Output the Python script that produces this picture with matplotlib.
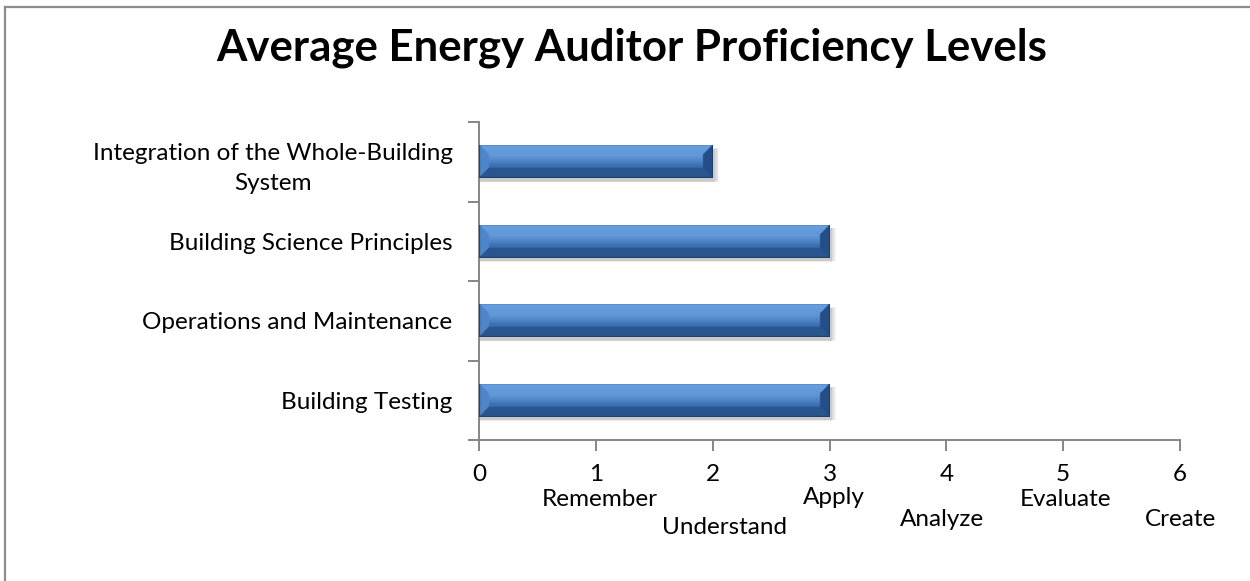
import numpy as np
import matplotlib
matplotlib.use("Agg")
import matplotlib.pyplot as plt
from matplotlib.lines import Line2D
from matplotlib.patches import Rectangle

categories = ["Building Testing", "Operations and Maintenance",
              "Building Science Principles",
              "Integration of the Whole-Building\nSystem"]
values = [3, 3, 3, 2]
x_ticks = [0, 1, 2, 3, 4, 5, 6]
levels = ["Remember", "Understand", "Apply", "Analyze", "Evaluate", "Create"]
level_x = [1.03, 2.10, 3.04, 3.96, 5.02, 6.00]
level_px_y = [500, 528, 497, 519, 499, 519]   # staggered rows under the numbers

FONT = "Lato"
FS = 17.5
AXIS_GREY = "#868686"

fig = plt.figure(figsize=(12.5, 5.81), dpi=100)
W, H = 1250, 581
AX_TOP, AX_BOT = 122, 440
ax = fig.add_axes([479 / W, 1 - AX_BOT / H, (1180 - 479) / W, (AX_BOT - AX_TOP) / H])

ypos = np.arange(len(categories))
bar_h = 0.42
bars = ax.barh(ypos, values, height=bar_h, color="#3C72B6",
               edgecolor="none", zorder=3)

ax.set_xlim(0, 6)
ax.set_ylim(-0.5, len(categories) - 0.5)

# soft drop shadow beneath each bar
for b in bars:
    x0, y0 = b.get_x(), b.get_y()
    w, h = b.get_width(), b.get_height()
    for k, a in enumerate([0.04, 0.05, 0.06, 0.07]):
        off = 0.006 * (4 - k)
        ax.add_patch(Rectangle((x0 + 0.01, y0 - 0.05 + off * 0.5), w + off * 2, h,
                               facecolor="black", alpha=a, edgecolor="none",
                               zorder=2))

# axes styling
for s in ["top", "right"]:
    ax.spines[s].set_visible(False)
for s in ["left", "bottom"]:
    ax.spines[s].set_color(AXIS_GREY)
    ax.spines[s].set_linewidth(1.4)

ax.set_yticks(np.arange(-0.5, len(categories), 1.0))
ax.set_yticklabels([])
ax.set_yticks(ypos, minor=True)
ax.set_yticklabels(categories, minor=True, fontfamily=FONT, fontsize=FS)
ax.tick_params(axis="y", which="major", length=8, width=1.4, color=AXIS_GREY,
               direction="out")
ax.tick_params(axis="y", which="minor", length=0, pad=19)

ax.set_xticks(x_ticks)
ax.set_xticklabels([str(v) for v in x_ticks], fontfamily=FONT, fontsize=FS)
ax.tick_params(axis="x", length=8, width=1.4, color=AXIS_GREY, direction="out",
               pad=9)

# bevelled gradient fill for each bar
fig.canvas.draw()
for t in ax.yaxis.get_ticklabels(minor=True):
    t.set_multialignment("center")
    t.set_linespacing(1.55)

px_per_x = ax.transData.transform((1, 0))[0] - ax.transData.transform((0, 0))[0]
px_per_y = ax.transData.transform((0, 1))[1] - ax.transData.transform((0, 0))[1]


def hex_rgb(c):
    return np.array(matplotlib.colors.to_rgb(c))


top_light = hex_rgb("#7DB3EE")
mid = hex_rgb("#3F76BA")
bot = hex_rgb("#2D5A96")
left_bev = hex_rgb("#4E86CA")
right_bev = hex_rgb("#264E86")
edge_dark = hex_rgb("#1E3D68")

for b in bars:
    w, h = b.get_width(), b.get_height()
    nx = max(int(round(w * px_per_x)) * 2, 2)
    ny = max(int(round(h * px_per_y)) * 2, 2)
    xx = (np.arange(nx) + 0.5) / 2.0
    yy = (np.arange(ny) + 0.5) / 2.0   # 0 at top
    X, Y = np.meshgrid(xx, yy)
    Wp, Hp = nx / 2.0, ny / 2.0
    bev = 0.30 * Hp
    t = Y / Hp
    face = np.empty((ny, nx, 3))
    g = np.clip((t - 0.12) / 0.5, 0, 1)[..., None]
    face[:] = top_light * (1 - g) + mid * g
    g2 = np.clip((t - 0.55) / 0.45, 0, 1)[..., None]
    face = face * (1 - g2) + bot * g2
    img = face.copy()
    d_top, d_bot = Y, Hp - Y
    d_left, d_right = X, Wp - X
    dmin = np.minimum(np.minimum(d_top, d_bot), np.minimum(d_left, d_right))
    in_bevel = dmin < bev
    m = in_bevel & (d_left == dmin)
    img[m] = left_bev
    m = in_bevel & (d_right == dmin)
    img[m] = right_bev
    m = in_bevel & (d_top == dmin)
    img[m] = (img[m] * 0.3 + hex_rgb("#5C94D6") * 0.7)
    m = in_bevel & (d_bot == dmin)
    img[m] = hex_rgb("#2A558E")
    outline = dmin < 1.0
    img[outline] = edge_dark
    im = ax.imshow(img, extent=(b.get_x(), b.get_x() + w, b.get_y(), b.get_y() + h),
                   aspect="auto", interpolation="bilinear", zorder=4, origin="upper")
    im.set_clip_path(b)

# level names under the numeric scale
for name, lx, py in zip(levels, level_x, level_px_y):
    ax.text(lx, (AX_BOT - py) / (AX_BOT - AX_TOP), name,
            transform=ax.get_xaxis_transform(), ha="center", va="center",
            fontfamily=FONT, fontsize=FS, clip_on=False)

fig.text(632 / W, 1 - 48 / H, "Average Energy Auditor Proficiency Levels",
         ha="center", va="center", fontfamily=FONT, fontweight="bold",
         fontsize=31.5)

# chart frame
fig.add_artist(Line2D([5 / W, 1.0], [1 - 7 / H, 1 - 7 / H], color="#8C8C8C",
                      lw=1.6, transform=fig.transFigure))
fig.add_artist(Line2D([5 / W, 5 / W], [0, 1 - 7 / H], color="#8C8C8C",
                      lw=1.6, transform=fig.transFigure))

fig.savefig("out.png", dpi=100)
